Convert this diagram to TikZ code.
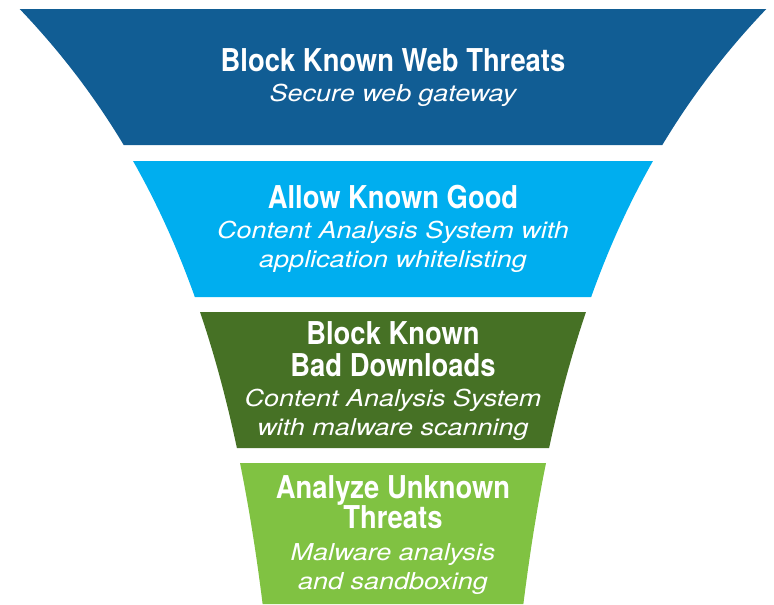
\documentclass[tikz,border=0pt]{standalone}
\usepackage{fontspec}
\newfontfamily\titlefont[FakeStretch=0.87]{TeX Gyre Heros}
\newfontfamily\subfont[FakeStretch=1.16]{TeX Gyre Heros}
\definecolor{bandA}{HTML}{115D94}
\definecolor{bandB}{HTML}{00AEEF}
\definecolor{bandC}{HTML}{467125}
\definecolor{bandD}{HTML}{80C242}
\newcommand\funnelband[3]{%
  \fill[#3] plot[domain=#1:#2,samples=40,variable=\t] ({393-fd(\t)},\t)
    -- plot[domain=#2:#1,samples=40,variable=\t] ({393+fd(\t)},\t) -- cycle;}
\begin{document}
\begin{tikzpicture}[x=0.75pt,y=-0.75pt,
  declare function={fd(\t)=94+288*exp(-\t/292);},
  title/.style={anchor=base,inner sep=0pt,text=white,font=\titlefont\bfseries\fontsize{23.6pt}{24pt}\selectfont},
  sub/.style={anchor=base,inner sep=0pt,text=white,font=\subfont\itshape\fontsize{17.45pt}{18pt}\selectfont}]
\useasboundingbox (0,0) rectangle (774,604);
\funnelband{9}{145}{bandA}
\funnelband{161}{297}{bandB}
\funnelband{312}{448}{bandC}
\funnelband{463}{604}{bandD}
% band 1
\node[title] (t1) at (393,71) {Block Known Web Threats};
\node[sub] (s1) at (393,101) {Secure web gateway};
% band 2
\node[title] (t2) at (393,208) {Allow Known Good};
\node[sub] (s2a) at (393,238) {Content Analysis System with};
\node[sub] (s2b) at (393,267) {application whitelisting};
% band 3
\node[title] (t3a) at (393,344) {Block Known};
\node[title] (t3b) at (393,376) {Bad Downloads};
\node[sub] (s3a) at (393,406) {Content Analysis System};
\node[sub] (s3b) at (393,435) {with malware scanning};
% band 4
\node[title] (t4a) at (393,498) {Analyze Unknown};
\node[title] (t4b) at (393,528) {Threats};
\node[sub] (s4a) at (393,560) {Malware analysis};
\node[sub] (s4b) at (393,589) {and sandboxing};
\end{tikzpicture}
\end{document}
